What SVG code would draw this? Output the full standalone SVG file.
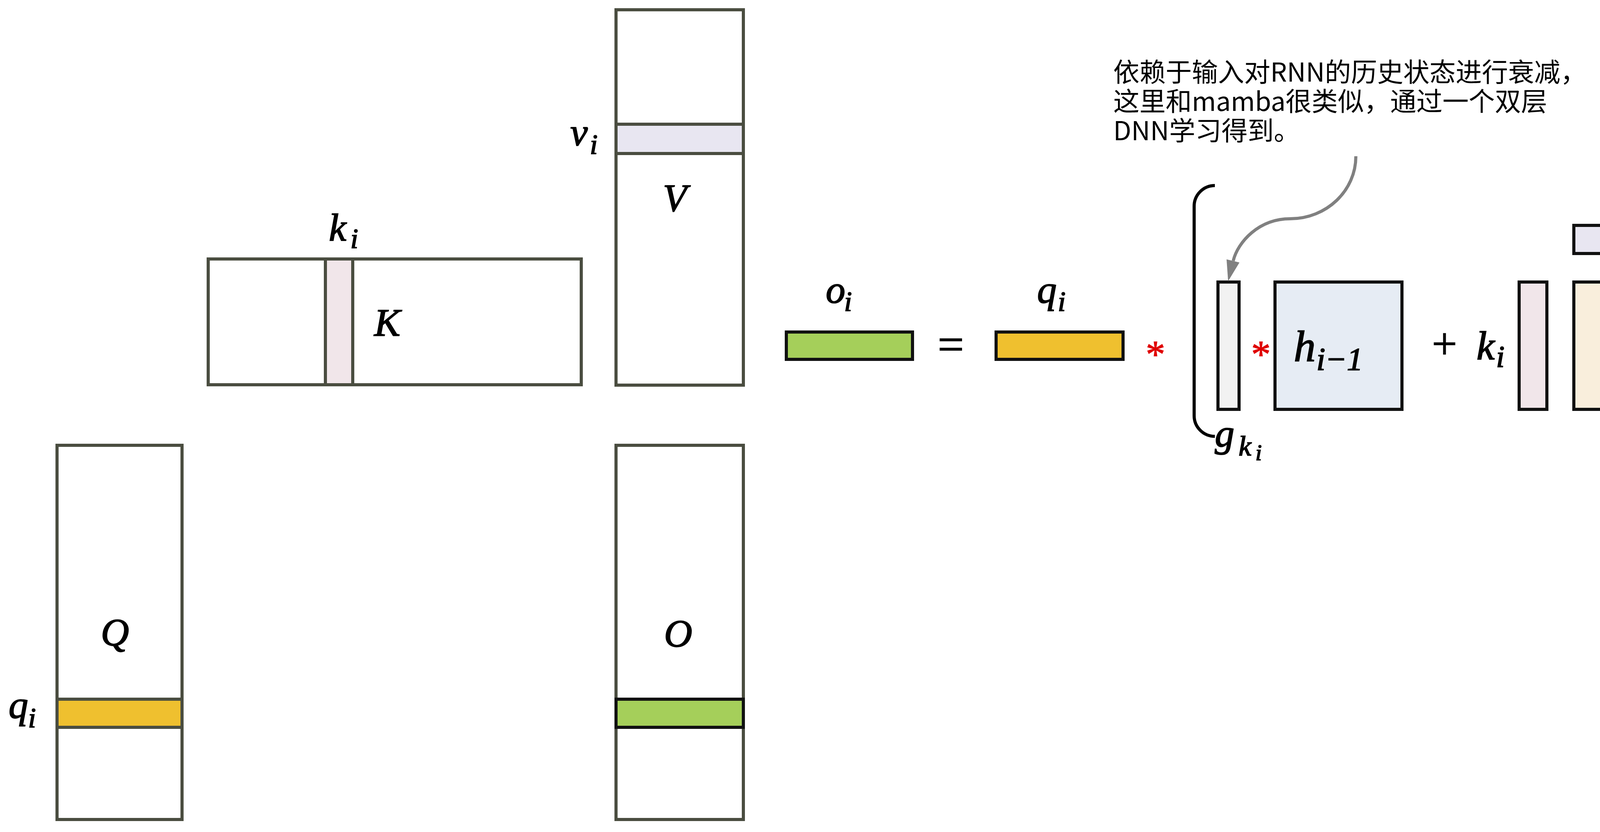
<svg xmlns="http://www.w3.org/2000/svg" width="4428" height="2130" viewBox="0 0 4428 2130">
<style>
.mat{fill:#ffffff;stroke:#4a4d40;stroke-width:8}
.bandL{stroke:#4a4d40;stroke-width:8}
.box{stroke:#111111;stroke-width:8}
.m{font-family:"Liberation Serif","DejaVu Serif",serif;font-style:italic;fill:#000;stroke:#000;stroke-width:2.2}
.op{font-family:"Liberation Serif","DejaVu Serif",serif;fill:#000;stroke:#000;stroke-width:1.5}
.red{font-family:"Liberation Serif","DejaVu Serif",serif;fill:#e00000;stroke:#e00000;stroke-width:1.5}
.note{font-family:"Noto Sans CJK SC","Noto Sans",sans-serif;font-size:67px;fill:#000}
.brk{fill:none;stroke:#000;stroke-width:8}
</style>
<rect width="4428" height="2130" fill="#ffffff"/>

<g id="V">
<rect class="mat" x="1577" y="25" width="326" height="961"/>
<rect class="bandL" x="1577" y="318" width="326" height="75" fill="#e8e6f1"/>
<text class="m" x="1460" y="372" font-size="100">v</text>
<text class="m" x="1510" y="394" font-size="72">i</text>
<text class="m" x="1697" y="540" font-size="100">V</text>
</g>

<g id="K">
<rect class="mat" x="533" y="663" width="955" height="322"/>
<rect class="bandL" x="833" y="663" width="70" height="322" fill="#f1e6ea"/>
<text class="m" x="842" y="616" font-size="100">k</text>
<text class="m" x="897" y="635" font-size="72">i</text>
<text class="m" x="958" y="859" font-size="100">K</text>
</g>

<g id="Q">
<rect class="mat" x="146" y="1140" width="320" height="958"/>
<rect class="bandL" x="146" y="1790" width="320" height="72" fill="#efc02f"/>
<text class="m" x="258" y="1652" font-size="100">Q</text>
<text class="m" x="22" y="1838" font-size="100">q</text>
<text class="m" x="72" y="1862" font-size="72">i</text>
</g>

<g id="O">
<rect class="mat" x="1577" y="1140" width="326" height="958"/>
<rect class="box" x="1577" y="1790" width="326" height="72" fill="#a5cf5a"/>
<text class="m" x="1700" y="1655" font-size="100">O</text>
</g>

<g id="o_i">
<rect class="box" x="2013" y="850" width="323" height="70" fill="#a5cf5a"/>
<text class="m" x="2114" y="775" font-size="100">o</text>
<text class="m" x="2161" y="796" font-size="72">i</text>
</g>

<g id="equals">
<text class="op" x="2434" y="922" font-size="120" text-anchor="middle">=</text>
</g>

<g id="q_i">
<rect class="box" x="2550" y="850" width="325" height="70" fill="#efc02f"/>
<text class="m" x="2655" y="775" font-size="100">q</text>
<text class="m" x="2708" y="796" font-size="72">i</text>
</g>

<g id="star1">
<text class="red" x="2958" y="940" font-size="100" text-anchor="middle">*</text>
</g>

<g id="bracket">
<path class="brk" d="M3110,475 A53,53 0 0 0 3057,528 V1064 A53,53 0 0 0 3110,1117"/>
<path class="brk" d="M4357,475 A50,50 0 0 1 4407,525 V1068 A50,50 0 0 1 4357,1118"/>
</g>

<g id="g_ki">
<rect class="box" x="3118" y="722" width="54" height="326" fill="#f2f2f2"/>
<text class="m" x="3110" y="1143" font-size="100">g</text>
<text class="m" x="3171" y="1166" font-size="72">k</text>
<text class="m" x="3214" y="1178" font-size="58">i</text>
</g>

<g id="star2">
<text class="red" x="3228" y="940" font-size="100" text-anchor="middle">*</text>
</g>

<g id="h">
<rect class="box" x="3264" y="722" width="325" height="326" fill="#e6ecf4"/>
<text class="m" x="3312" y="925" font-size="112">h</text>
<text class="m" x="3370" y="947" font-size="82">i−1</text>
</g>

<g id="plus">
<text class="op" x="3698" y="918" font-size="115" text-anchor="middle">+</text>
</g>

<g id="k_i">
<rect class="box" x="3889" y="722" width="71" height="326" fill="#f1e6ea"/>
<text class="m" x="3780" y="920" font-size="104">k</text>
<text class="m" x="3830" y="939" font-size="78">i</text>
</g>

<g id="v_i">
<rect class="box" x="4029" y="577" width="326" height="72" fill="#e8e6f1"/>
<text class="m" x="4140" y="540" font-size="108">v</text>
<text class="m" x="4192" y="557" font-size="76">i</text>
</g>

<g id="s_t">
<rect class="box" x="4029" y="722" width="326" height="326" fill="#f9eedc"/>
<text class="m" x="4133" y="925" font-size="112">s</text>
<text class="m" x="4177" y="948" font-size="86">t</text>
</g>

<g id="note">
<text class="note"><tspan x="2850" y="209">依赖于输入对RNN的历史状态进行衰减，</tspan><tspan x="2850" y="284">这里和mamba很类似，通过一个双层</tspan><tspan x="2850" y="359">DNN学习得到。</tspan></text>
</g>

<g id="connectors">
<path d="M3471,400 C3471,488 3396,560 3303,560 C3223,560 3169,619 3157,668" fill="none" stroke="#808080" stroke-width="8"/>
<polygon points="3140,664 3173,672 3144,720" fill="#808080"/>
</g>
</svg>
